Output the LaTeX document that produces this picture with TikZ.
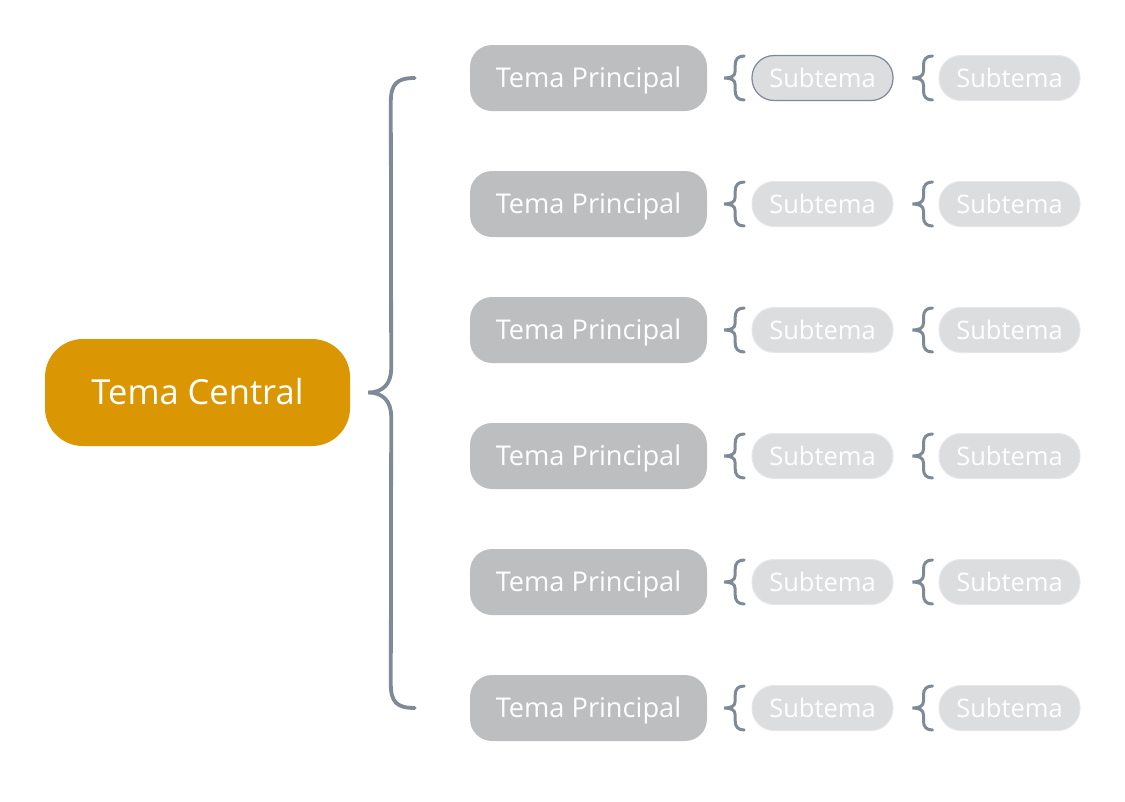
\documentclass[tikz,border=0pt]{standalone}
\usepackage{fontspec}
\setmainfont{Open Sans}
\usetikzlibrary{calc}
\definecolor{central}{HTML}{DB9603}
\definecolor{maingray}{HTML}{BDBEC0}
\definecolor{subgray}{HTML}{DCDDDF}
\definecolor{bracecol}{HTML}{7F8A98}
\definecolor{subedge}{HTML}{E6E7E8}
\tikzset{
  centralbox/.style={fill=central, text=white, rounded corners=38pt, minimum width=305pt, minimum height=107pt, inner sep=0pt, text height=24.6pt, text depth=0pt, font=\fontsize{34.5}{40}\selectfont},
  mainbox/.style={fill=maingray, text=white, rounded corners=22pt, minimum width=237pt, minimum height=66pt, inner sep=0pt, text height=19.4pt, text depth=0pt, font=\fontsize{27.2}{32}\selectfont},
  subbox/.style={fill=subgray, draw=subedge, line width=1pt, text=white, rounded corners=22pt, minimum width=141pt, minimum height=45pt, inner sep=0pt, text height=18.2pt, text depth=0pt, font=\fontsize{25.5}{30}\selectfont},
  bracestyle/.style={draw=bracecol, line width=3pt, line cap=round},
  smallbrace/.pic={
    \draw[bracestyle] (20,-22) .. controls (14,-22) and (11,-19) .. (11,-13) -- (11,-7)
      .. controls (11,-2) and (7,0) .. (0,0) .. controls (7,0) and (11,2) .. (11,7) -- (11,13)
      .. controls (11,19) and (14,22) .. (20,22);
  }
}
\begin{document}
\begin{tikzpicture}[x=1pt,y=-1pt]
\useasboundingbox (0,0) rectangle (1125,801);
\node[centralbox] (c) at (197.5,392.5) {Tema Central};
\foreach \i in {1,...,6}{
  \pgfmathsetmacro{\yy}{78+126*(\i-1)}
  \node[mainbox] (m\i) at (588.5,\yy) {Tema Principal};
  \node[subbox] (s\i a) at (822.5,\yy) {Subtema};
  \node[subbox] (s\i b) at (1009.5,\yy) {Subtema};
  \path ($(m\i.east)+(17,0)$) pic {smallbrace};
  \path ($(s\i a.east)+(19,0)$) pic {smallbrace};
}
\node[subbox, draw=bracecol, line width=1.2pt] at (s1a) {Subtema};
% big brace
\coordinate (tip) at ($(c.east)+(18,0)$);
\coordinate (top) at ($(m1.west)+(-55,0)$);
\coordinate (bot) at ($(m6.west)+(-55,0)$);
\draw[bracestyle, line width=3.8pt]
  (top) .. controls ($(top)+(-18,0)$) and ($(top)+(-24,6)$) .. ($(top)+(-24,24)$)
  -- ($(tip)+(23,-24)$)
  .. controls ($(tip)+(23,-8)$) and ($(tip)+(14,0)$) .. (tip)
  .. controls ($(tip)+(14,0)$) and ($(tip)+(23,8)$) .. ($(tip)+(23,24)$)
  -- ($(bot)+(-24,-24)$)
  .. controls ($(bot)+(-24,-6)$) and ($(bot)+(-18,0)$) .. (bot);
\end{tikzpicture}
\end{document}
